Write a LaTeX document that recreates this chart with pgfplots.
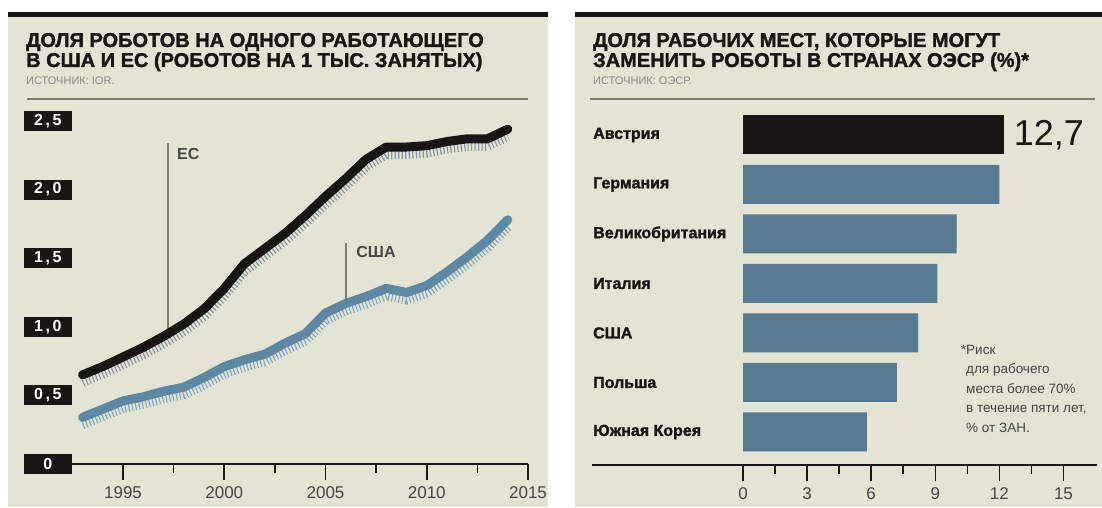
\documentclass[border=0pt]{standalone}
\usepackage{pgfplots}
\pgfplotsset{compat=1.18}
\usepackage{fontspec}
\setmainfont{Liberation Sans}
\newfontfamily\heavy[FakeBold=1.6]{Liberation Sans Bold}

\definecolor{panel}{RGB}{227,228,212}
\definecolor{barblue}{RGB}{86,123,146}
\definecolor{lineblue}{RGB}{92,136,163}
\definecolor{hatchblue}{RGB}{125,165,190}
\definecolor{hatchgray}{RGB}{130,145,158}
\definecolor{ink}{RGB}{24,22,20}
\definecolor{ticktext}{RGB}{70,70,70}
\definecolor{srcgray}{RGB}{135,135,135}
\definecolor{rulegray}{RGB}{125,125,120}

\newcommand\fs[1]{\fontsize{#1}{#1}\selectfont}

% robots per 1000 employed
\pgfplotstableread{
year eu   us
1993 0.65 0.34
1994 0.71 0.40
1995 0.78 0.46
1996 0.85 0.49
1997 0.93 0.53
1998 1.02 0.56
1999 1.13 0.63
2000 1.28 0.71
2001 1.46 0.76
2002 1.57 0.80
2003 1.68 0.88
2004 1.81 0.95
2005 1.95 1.10
2006 2.08 1.17
2007 2.22 1.22
2008 2.31 1.28
2009 2.31 1.25
2010 2.32 1.30
2011 2.35 1.40
2012 2.37 1.51
2013 2.37 1.63
2014 2.44 1.78
}\robots

\begin{document}
\begin{tikzpicture}
% panels
\fill[white] (0pt,0pt) rectangle (1102pt,507pt);
\fill[panel] (8pt,0pt) rectangle (548pt,490pt);
\fill[panel] (575pt,0pt) rectangle (1102pt,490pt);
\fill[ink] (8pt,490pt) rectangle (548pt,495pt);
\fill[ink] (575pt,490pt) rectangle (1102pt,495pt);

% titles
\tikzset{ttl/.style={anchor=base west, inner sep=0pt, text=ink, font=\fs{20}\heavy}}
\node[ttl] at (26pt,460pt) {ДОЛЯ РОБОТОВ НА ОДНОГО РАБОТАЮЩЕГО};
\node[ttl] at (26pt,440pt) {В США И ЕС (РОБОТОВ НА 1 ТЫС. ЗАНЯТЫХ)};
\node[anchor=base west, inner sep=0pt, text=srcgray, font=\fs{11}] at (26pt,422pt) {ИСТОЧНИК: IOR.};
\node[ttl] at (593pt,460pt) {ДОЛЯ РАБОЧИХ МЕСТ, КОТОРЫЕ МОГУТ};
\node[ttl] at (593pt,440pt) {ЗАМЕНИТЬ РОБОТЫ В СТРАНАХ ОЭСР (\%)*};
\node[anchor=base west, inner sep=0pt, text=srcgray, font=\fs{11}] at (593pt,422pt) {ИСТОЧНИК: ОЭСР.};
\draw[rulegray, line width=1.2pt] (27pt,408pt) -- (528pt,408pt);
\draw[rulegray, line width=1.2pt] (590pt,408pt) -- (1095pt,408pt);

% left: line chart
\begin{axis}[
  at={(72pt,43pt)}, anchor=south west,
  scale only axis, width=456pt, height=349.9pt,
  xmin=1992.48, xmax=2015, ymin=0, ymax=2.55,
  axis lines*=left,
  x axis line style={line width=1.6pt, ink},
  y axis line style={draw=none},
  xtick={1995,2000,2005,2010,2015},
  minor xtick={1997.5,2002.5,2007.5,2012.5},
  tick align=outside,
  major tick length=16pt, minor tick length=9pt,
  x tick style={line width=1.6pt, ink},
  y tick style={draw=none},
  ytick={0,0.5,1,1.5,2,2.5},
  yticklabels={0,{0\,,\,5},{1\,,\,0},{1\,,\,5},{2\,,\,0},{2\,,\,5}},
  yticklabel style={fill=ink, text=white, font=\fs{16}\bfseries,
    minimum width=48pt, minimum height=20pt, inner sep=0pt, anchor=east, xshift=16pt},
  xticklabel style={font=\fs{17}, text=ticktext, yshift=-3pt, /pgf/number format/1000 sep={}},
  /pgf/number format/assume math mode=true,
  clip=false,
]
\draw[rulegray, line width=1.6pt] (axis cs:1997.22,0.98) -- (axis cs:1997.22,2.34);
\node[anchor=west, font=\fs{16}\bfseries, text=ticktext] at (axis cs:1997.5,2.26) {ЕС};
\draw[rulegray, line width=1.6pt] (axis cs:2006.01,1.18) -- (axis cs:2006.01,1.61);
\node[anchor=west, font=\fs{16}\bfseries, text=ticktext] at (axis cs:2006.35,1.545) {США};

\addplot[hatchgray, line width=10pt, dash pattern=on 1.1pt off 2.4pt, yshift=-7pt] table[x=year, y=eu] {\robots};
\addplot[hatchblue, line width=10pt, dash pattern=on 1.1pt off 2.4pt, yshift=-7pt] table[x=year, y=us] {\robots};
\addplot[ink, line width=9pt, line join=round, line cap=round] table[x=year, y=eu] {\robots};
\addplot[lineblue, line width=9pt, line join=round, line cap=round] table[x=year, y=us] {\robots};
\end{axis}

% right: bar chart
\begin{axis}[
  at={(592pt,42pt)}, anchor=south west,
  scale only axis, width=505pt, height=364.7pt,
  xmin=-7.07, xmax=16.57, ymin=-0.667, ymax=6.7,
  xbar, bar width=39pt, bar shift=0pt,
  axis lines*=left,
  x axis line style={line width=1.6pt, ink},
  y axis line style={draw=none},
  xtick={0,3,6,9,12,15},
  minor xtick={1.5,4.5,7.5,10.5,13.5},
  tick align=outside,
  major tick length=16pt, minor tick length=9pt,
  x tick style={line width=1.6pt, ink},
  y tick style={draw=none},
  ytick={0,1,2,3,4,5,6},
  yticklabels={Южная Корея, Польша, США, Италия, Великобритания, Германия, Австрия},
  yticklabel style={anchor=west, font=\fs{16}\heavy, text=ink, inner sep=0pt, xshift=17pt},
  xticklabel style={font=\fs{17}, text=ticktext, yshift=-3pt},
  /pgf/number format/assume math mode=true,
  clip=false,
]
\addplot[draw=none, fill=barblue] coordinates {(5.8,0) (7.2,1) (8.2,2) (9.1,3) (10.0,4) (12.0,5)};
\addplot[draw=none, fill=ink] coordinates {(12.2,6)};
\node[anchor=west, font=\fs{36}, text=ink, inner sep=0pt] at (axis cs:12.2,6) {\hspace{10pt}12,7};
\end{axis}

% footnote
\node[anchor=north west, inner sep=0pt, align=left, text=ticktext,
  font=\fontsize{13.5}{19.5}\selectfont] at (966pt,162pt)
  {\llap{*}Риск\\для рабочего\\места более 70\%\\в течение пяти лет,\\\% от ЗАН.};
\end{tikzpicture}
\end{document}
